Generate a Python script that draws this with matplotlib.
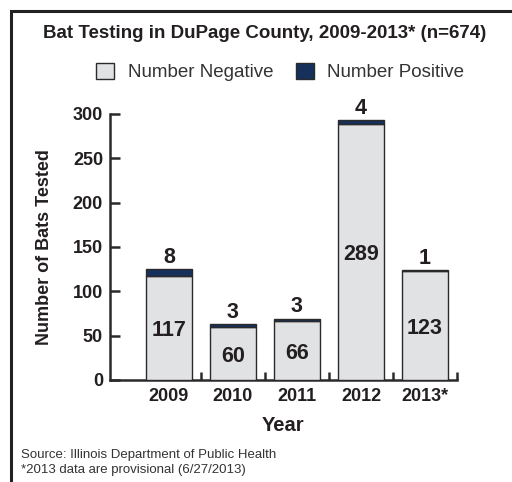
import matplotlib
matplotlib.use("Agg")
import matplotlib.pyplot as plt
from matplotlib.patches import Rectangle
import numpy as np

years = ["2009", "2010", "2011", "2012", "2013*"]
negative = [117, 60, 66, 289, 123]
positive = [8, 3, 3, 4, 1]

NEG_COLOR = "#e1e2e4"
POS_COLOR = "#15305a"
EDGE = "#2a2a2a"
TXT = "#231f20"

plt.rcParams["font.family"] = ["Liberation Sans", "DejaVu Sans"]

fig = plt.figure(figsize=(5.12, 4.82), dpi=100)
W, H = 512, 482
ax = fig.add_axes([110 / W, 1 - 380 / H, (457 - 110) / W, (380 - 114) / H])

x = np.arange(len(years))
bw = 46 / 64
b1 = ax.bar(x, negative, width=bw, color=NEG_COLOR, edgecolor=EDGE, linewidth=1.0,
            label="Number Negative", zorder=3)
b2 = ax.bar(x, positive, width=bw, bottom=negative, color=POS_COLOR, edgecolor=EDGE,
            linewidth=1.0, label="Number Positive", zorder=3)

for xi, n, p in zip(x, negative, positive):
    ax.text(xi, n / 2 - 3, str(n), ha="center", va="center", fontsize=15.5,
            fontweight="bold", color=TXT, zorder=4)
    ax.annotate(str(p), (xi, n + p), xytext=(0, 1), textcoords="offset points",
                ha="center", va="bottom", fontsize=15.5, fontweight="bold", color=TXT)

ax.set_xlim(-0.92, 4.5)
ax.set_ylim(0, 300)
ax.set_yticks([0, 50, 100, 150, 200, 250, 300])
ax.set_xticks(x)
ax.set_xticklabels(years)
ax.set_xticks(np.arange(0.5, 5, 1), minor=True)
ax.tick_params(axis="x", which="major", length=0, pad=6, labelsize=13, labelcolor=TXT)
ax.tick_params(axis="x", which="minor", direction="in", length=6, width=1.8, color=EDGE)
ax.tick_params(axis="y", direction="in", length=7, width=1.8, color=EDGE, pad=5,
               labelsize=13, labelcolor=TXT)
for lab in ax.get_xticklabels() + ax.get_yticklabels():
    lab.set_fontweight("bold")

for s in ["top", "right"]:
    ax.spines[s].set_visible(False)
for s in ["left", "bottom"]:
    ax.spines[s].set_linewidth(1.8)
    ax.spines[s].set_color(EDGE)

ax.set_ylabel("Number of Bats Tested", fontsize=13, fontweight="bold", color=TXT, labelpad=14)
ax.set_xlabel("Year", fontsize=14.5, fontweight="bold", color=TXT, labelpad=8)

fig.text(265 / W, 1 - 33 / H, "Bat Testing in DuPage County, 2009-2013* (n=674)",
         ha="center", va="center", fontsize=13.5, fontweight="bold", color=TXT)

fig.legend(handles=[b1, b2], labels=["Number Negative", "Number Positive"],
           loc="center", bbox_to_anchor=(280 / W, 1 - 72 / H), ncol=2, frameon=False,
           fontsize=13.5, handlelength=1.0, handleheight=1.0, columnspacing=1.2,
           handletextpad=0.7, labelcolor="#333333")

fig.text(21 / W, 1 - 455 / H, "Source: Illinois Department of Public Health",
         ha="left", va="center", fontsize=9.5, color="#333333")
fig.text(21 / W, 1 - 470 / H, "*2013 data are provisional (6/27/2013)",
         ha="left", va="center", fontsize=9.5, color="#333333")

fig.patches.append(Rectangle((11 / W, -0.1), 1.2, 1.1 - 11 / H, transform=fig.transFigure,
                             fill=False, edgecolor="#222222", linewidth=2.2))

fig.savefig("out.png", dpi=100)
